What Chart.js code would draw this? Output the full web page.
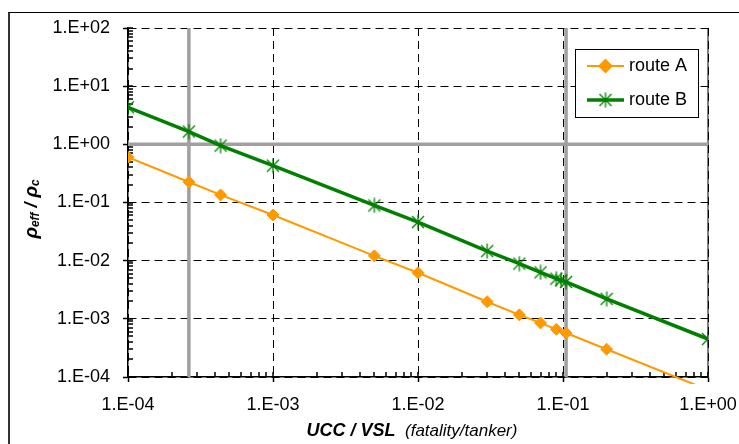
<!DOCTYPE html>
<html>
<head>
<meta charset="utf-8">
<script src="https://cdn.jsdelivr.net/npm/chart.js@4.4.0/dist/chart.umd.min.js"></script>
<style>
  body { margin: 0; background: #fff; }
  #wrap { position: relative; width: 739px; height: 444px; overflow: hidden; }
  #frame { position: absolute; left: 8px; top: 12px; width: 800px; height: 500px;
           border-left: 2px solid #333; border-top: 1px solid #000; }
  canvas { position: absolute; left: 0; top: 0; }
</style>
</head>
<body>
<div id="wrap">
  <div id="frame"></div>
  <canvas id="chart" width="739" height="444"></canvas>
</div>
<script>
// values
const routeAx = [1e-4, 2.63e-4, 4.35e-4, 1e-3, 5e-3, 1e-2, 0.03, 0.05, 0.07, 0.09, 0.105, 0.2, 1];
const routeAy = [0.6, 0.225, 0.135, 0.061, 0.0121, 0.0062, 0.00197, 0.00117, 0.00085, 0.00066, 0.00057, 0.0003, 0.00006];
const routeBx = [1e-4, 2.63e-4, 4.35e-4, 1e-3, 5e-3, 1e-2, 0.03, 0.05, 0.07, 0.09, 0.097, 0.105, 0.2, 1];
const routeBy = [4.34, 1.66, 0.95, 0.43, 0.089, 0.046, 0.0146, 0.0089, 0.0063, 0.0049, 0.0046, 0.0043, 0.0022, 0.00045];
const markX = [2.63e-4, 0.105];   // gray vertical lines
const markY = [1];                // gray horizontal line
const xDecades = [1e-4, 1e-3, 1e-2, 1e-1, 1];
const xTickLabels = ['1.E-04', '1.E-03', '1.E-02', '1.E-01', '1.E+00'];
const yDecades = [1e-4, 1e-3, 1e-2, 1e-1, 1, 10, 100];
const yTickLabels = ['1.E-04', '1.E-03', '1.E-02', '1.E-01', '1.E+00', '1.E+01', '1.E+02'];
const seriesNames = ['route A', 'route B'];

const ORANGE = '#FF9900';
const GREEN = '#008000';
const GRAY = '#a0a0a0';

const isDecade = v => Math.abs(Math.log10(v) - Math.round(Math.log10(v))) < 1e-6;
const labelFor = (v, decades, labels) => {
  const i = decades.findIndex(d => Math.abs(d - v) / d < 1e-6);
  return i >= 0 ? labels[i] : '';
};
const logTicks = decades => {
  const out = [];
  for (let i = 0; i < decades.length - 1; i++) {
    for (let k = 1; k <= 9; k++) out.push({ value: +(decades[i] * k).toPrecision(6) });
  }
  out.push({ value: decades[decades.length - 1] });
  return out;
};

// star marker: X plus vertical bar
const star = document.createElement('canvas');
star.width = 16; star.height = 16;
(() => {
  const c = star.getContext('2d');
  c.strokeStyle = GREEN; c.lineWidth = 1.3;
  c.beginPath();
  c.moveTo(2, 2); c.lineTo(14, 14);
  c.moveTo(14, 2); c.lineTo(2, 14);
  c.moveTo(8, 0.5); c.lineTo(8, 15.5);
  c.stroke();
})();

const gridColor = c => (c.tick && isDecade(c.tick.value)) ? '#000' : 'rgba(0,0,0,0)';

const frameTicks = {
  id: 'frameTicks',
  beforeDatasetsDraw(chart) {
    const { ctx, chartArea: a, scales: { x, y } } = chart;
    ctx.save();
    ctx.strokeStyle = '#000';
    ctx.lineWidth = 1.5;
    ctx.beginPath();
    x.ticks.forEach(t => {
      const px = Math.round(x.getPixelForValue(t.value));
      ctx.moveTo(px, a.bottom); ctx.lineTo(px, a.bottom - 5);
    });
    y.ticks.forEach(t => {
      const py = Math.round(y.getPixelForValue(t.value));
      ctx.moveTo(a.left, py); ctx.lineTo(a.left + 5, py);
    });
    ctx.stroke();
    ctx.lineWidth = 1;
    ctx.beginPath();
    ctx.moveTo(a.right, a.top); ctx.lineTo(a.right, a.bottom);
    ctx.stroke();
    ctx.restore();
  }
};

function drawParts(ctx, parts, cx, cy) {
  let w = 0;
  parts.forEach(p => { ctx.font = p.font; w += ctx.measureText(p.text).width; });
  let x = cx - w / 2;
  parts.forEach(p => {
    ctx.font = p.font;
    ctx.fillText(p.text, x, cy + (p.dy || 0));
    x += ctx.measureText(p.text).width;
  });
}

const FAM = "'Liberation Sans', Arial, sans-serif";

const titlesAndLegend = {
  id: 'titlesAndLegend',
  afterDraw(chart) {
    const { ctx, chartArea: a } = chart;
    ctx.save();
    ctx.fillStyle = '#000';
    ctx.textBaseline = 'middle';
    ctx.textAlign = 'left';

    // y title
    ctx.save();
    ctx.translate(32, 209);
    ctx.rotate(-Math.PI / 2);
    drawParts(ctx, [
      { text: 'ρ', font: 'bold italic 19px ' + FAM },
      { text: 'eff', font: 'bold italic 12px ' + FAM, dy: 4 },
      { text: ' / ', font: 'bold italic 18px ' + FAM },
      { text: 'ρ', font: 'bold italic 19px ' + FAM },
      { text: 'c', font: 'bold italic 12px ' + FAM, dy: 4 }
    ], 0, 0);
    ctx.restore();

    // x title
    drawParts(ctx, [
      { text: 'UCC / VSL', font: 'bold italic 18px ' + FAM },
      { text: '  (fatality/tanker)', font: 'italic 17px ' + FAM }
    ], 412, 431);

    // legend
    const lw = 123, lh = 68;
    const lx = a.right - 10 - lw, ly = a.top + 21;
    ctx.fillStyle = '#fff';
    ctx.fillRect(lx, ly, lw, lh);
    ctx.strokeStyle = '#000';
    ctx.lineWidth = 1;
    ctx.strokeRect(lx + 0.5, ly + 0.5, lw, lh);

    const rows = [ly + 17, ly + 51];
    chart.data.datasets.slice(0, 2).forEach((ds, i) => {
      const ry = rows[i];
      ctx.strokeStyle = ds.borderColor;
      ctx.lineWidth = ds.borderWidth;
      ctx.beginPath();
      ctx.moveTo(lx + 12, ry); ctx.lineTo(lx + 49, ry);
      ctx.stroke();
      if (ds.pointStyle === 'rectRot') {
        ctx.fillStyle = ds.pointBackgroundColor;
        ctx.strokeStyle = ds.pointBorderColor;
        Chart.helpers.drawPoint(ctx, { pointStyle: 'rectRot', radius: 6, borderWidth: 1, rotation: 0 }, lx + 30.5, ry);
      } else {
        ctx.drawImage(star, lx + 30.5 - 8, ry - 8);
      }
      ctx.fillStyle = '#000';
      ctx.font = '18px ' + FAM;
      ctx.fillText(ds.label, lx + 54, ry);
    });
    ctx.restore();
  }
};

const pts = (xs, ys) => xs.map((x, i) => ({ x, y: ys[i] }));
const grayLines = [
  ...markX.map(v => ({ data: [{ x: v, y: yDecades[0] }, { x: v, y: yDecades[yDecades.length - 1] }] })),
  ...markY.map(v => ({ data: [{ x: xDecades[0], y: v }, { x: xDecades[xDecades.length - 1], y: v }] }))
].map(g => ({
  label: '', data: g.data, borderColor: GRAY, borderWidth: 3.5,
  pointRadius: 0, tension: 0
}));

Chart.defaults.font.family = FAM;
Chart.defaults.font.size = 18;
Chart.defaults.color = '#000';

new Chart(document.getElementById('chart').getContext('2d'), {
  type: 'line',
  data: {
    datasets: [
      {
        label: seriesNames[0], data: pts(routeAx, routeAy),
        borderColor: ORANGE, borderWidth: 2,
        pointStyle: 'rectRot', pointRadius: 6, pointBorderWidth: 1,
        pointBackgroundColor: ORANGE, pointBorderColor: ORANGE,
        tension: 0, clip: { left: 0, top: 0, right: 0, bottom: 7 }
      },
      {
        label: seriesNames[1], data: pts(routeBx, routeBy),
        borderColor: GREEN, borderWidth: 3.5,
        pointStyle: star, pointRadius: 8,
        pointBackgroundColor: GREEN, pointBorderColor: GREEN,
        tension: 0
      },
      ...grayLines
    ]
  },
  options: {
    responsive: false,
    devicePixelRatio: 1,
    animation: false,
    layout: { padding: { left: 0, top: 28, right: 31, bottom: 0 } },
    plugins: { legend: { display: false }, tooltip: { enabled: false } },
    scales: {
      x: {
        type: 'logarithmic', min: xDecades[0], max: xDecades[xDecades.length - 1],
        afterFit: s => { s.height = 67; s.paddingLeft = 0; s.paddingRight = 0; },
        afterBuildTicks: s => { s.ticks = logTicks(xDecades); },
        ticks: {
          autoSkip: false, maxRotation: 0, minRotation: 0, padding: 12, color: '#000',
          callback: v => labelFor(v, xDecades, xTickLabels)
        },
        grid: {
          color: gridColor, lineWidth: 1, tickLength: 5, tickWidth: 1.5,
          tickColor: gridColor, tickBorderDash: []
        },
        border: { color: '#000', width: 1.5, dash: [8, 5] }
      },
      y: {
        type: 'logarithmic', min: yDecades[0], max: yDecades[yDecades.length - 1],
        afterFit: s => { s.width = 128; s.paddingTop = 0; s.paddingBottom = 0; },
        afterBuildTicks: s => { s.ticks = logTicks(yDecades); },
        ticks: {
          autoSkip: false, padding: 13, color: '#000',
          callback: v => labelFor(v, yDecades, yTickLabels)
        },
        grid: {
          color: gridColor, lineWidth: 1, tickLength: 5, tickWidth: 1.5,
          tickColor: gridColor, tickBorderDash: []
        },
        border: { color: '#000', width: 1.5, dash: [8, 5] }
      }
    }
  },
  plugins: [frameTicks, titlesAndLegend]
});
</script>
</body>
</html>
